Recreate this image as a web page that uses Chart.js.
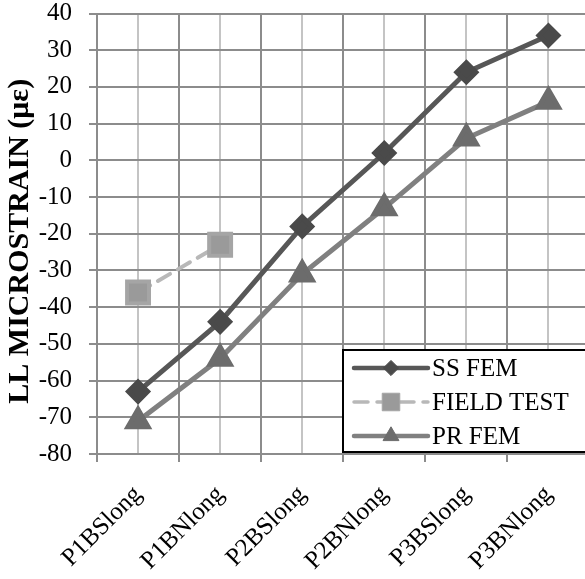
<!DOCTYPE html>
<html>
<head>
<meta charset="utf-8">
<script src="https://cdn.jsdelivr.net/npm/chart.js@4.4.1/dist/chart.umd.min.js"></script>
<style>
  html, body { margin: 0; padding: 0; background: #fff; overflow: hidden; }
  #wrap { width: 609px; height: 585px; margin-top: -6px; }
</style>
</head>
<body>
<div id="wrap"><canvas id="strainChart" width="609" height="585"></canvas></div>
<script>
const categories = ["P1BSlong", "P1BNlong", "P2BSlong", "P2BNlong", "P3BSlong", "P3BNlong"];
const ssFem = [-63, -44, -18, 2, 24, 34];
const fieldTest = [-36, -23, null, null, null, null];
const prFem = [-71, -54, -31, -13, 6, 16];
const yMin = -80;
const yMax = 40;
const yStep = 10;
const yTitle = "LL MICROSTRAIN (\u03bc\u03b5)  ";

const SERIF = "'Liberation Serif', 'Times New Roman', serif";

// legend drawn inside the plot, boxed, like the original
const boxLegend = {
  id: "boxLegend",
  afterDraw(chart) {
    const { ctx, chartArea } = chart;
    const xs = chart.scales.x;
    const left = Math.round((xs.getPixelForValue(2) + xs.getPixelForValue(3)) / 2);
    const bottom = chartArea.bottom - 2;
    const top = bottom - 102;
    ctx.save();
    ctx.fillStyle = "#fff";
    ctx.fillRect(left, top, chart.width - left + 10, bottom - top);
    ctx.strokeStyle = "#000";
    ctx.lineWidth = 2;
    ctx.strokeRect(left, top, chart.width - left + 10, bottom - top);

    chart.data.datasets.forEach((ds, i) => {
      const y = top + 18 + i * 34;
      ctx.save();
      ctx.strokeStyle = ds.borderColor;
      ctx.lineWidth = ds.borderWidth - 0.5;
      ctx.lineCap = "round";
      ctx.setLineDash(ds.borderDash || []);
      ctx.beginPath();
      ctx.moveTo(left + 11, y);
      ctx.lineTo(left + 85, y);
      ctx.stroke();
      ctx.restore();

      ctx.save();
      ctx.fillStyle = ds.pointBackgroundColor;
      ctx.strokeStyle = ds.pointBorderColor;
      ctx.lineWidth = 1;
      Chart.helpers.drawPoint(ctx, { pointStyle: ds.pointStyle, radius: ds.pointRadius * 0.8, rotation: 0, borderWidth: 1 }, left + 48, y);
      ctx.restore();

      ctx.fillStyle = "#000";
      ctx.font = "25px " + SERIF;
      ctx.textBaseline = "middle";
      ctx.textAlign = "left";
      ctx.fillText(ds.label, left + 89, y + 1);
    });
    ctx.restore();
  }
};

function noScalePadding(scale) {
  scale.paddingTop = 0;
  scale.paddingBottom = 0;
  scale.paddingLeft = 0;
  scale.paddingRight = 0;
}

const ctx = document.getElementById("strainChart").getContext("2d");
new Chart(ctx, {
  type: "line",
  data: {
    labels: categories,
    datasets: [
      {
        label: "SS FEM",
        data: ssFem,
        borderColor: "#575757",
        borderWidth: 5,
        pointStyle: "rectRot",
        pointRadius: 9.5,
        pointBackgroundColor: "#4a4a4a",
        pointBorderColor: "#4a4a4a",
        tension: 0,
      },
      {
        label: "FIELD TEST",
        data: fieldTest,
        borderColor: "#b8b8b8",
        borderWidth: 4,
        borderDash: [14, 9],
        borderCapStyle: "round",
        pointStyle: "rect",
        pointRadius: 15.5,
        pointBackgroundColor: "#9a9a9a",
        pointBorderColor: "#a5a5a5",
        tension: 0,
      },
      {
        label: "PR FEM",
        data: prFem,
        borderColor: "#808080",
        borderWidth: 5,
        pointStyle: "triangle",
        pointRadius: 11.5,
        pointBackgroundColor: "#6c6c6c",
        pointBorderColor: "#6c6c6c",
        tension: 0,
      },
    ],
  },
  options: {
    responsive: false,
    animation: false,
    layout: { padding: { top: 10, right: 6, left: 0, bottom: 0 } },
    plugins: {
      legend: { display: false },
      tooltip: { enabled: false },
    },
    scales: {
      x: {
        type: "category",
        offset: true,
        grid: { offset: true, color: "#8c8c8c", lineWidth: 2, tickLength: 8 },
        border: { color: "#8c8c8c", width: 2 },
        ticks: {
          color: "#000",
          font: { family: SERIF, size: 25 },
          minRotation: 45,
          maxRotation: 45,
          padding: 18,
        },
        afterFit(scale) { scale.height = 125; noScalePadding(scale); },
      },
      xc: {
        type: "category",
        position: "bottom",
        offset: true,
        grid: { offset: false, color: "#c4c4c4", lineWidth: 2, drawTicks: false },
        border: { display: false },
        ticks: { display: false },
        afterFit(scale) { scale.height = 0; noScalePadding(scale); },
      },
      y: {
        min: yMin,
        max: yMax,
        ticks: {
          stepSize: yStep,
          color: "#000",
          font: { family: SERIF, size: 25 },
          padding: 17,
        },
        grid: { color: "#8c8c8c", lineWidth: 2, tickLength: 8 },
        border: { color: "#8c8c8c", width: 2 },
        title: {
          display: true,
          text: yTitle,
          color: "#000",
          font: { family: SERIF, size: 30, weight: "bold" },
          padding: { top: 2, bottom: 0 },
        },
        afterFit(scale) { scale.width = 97; noScalePadding(scale); },
      },
    },
  },
  plugins: [boxLegend],
});
</script>
</body>
</html>
